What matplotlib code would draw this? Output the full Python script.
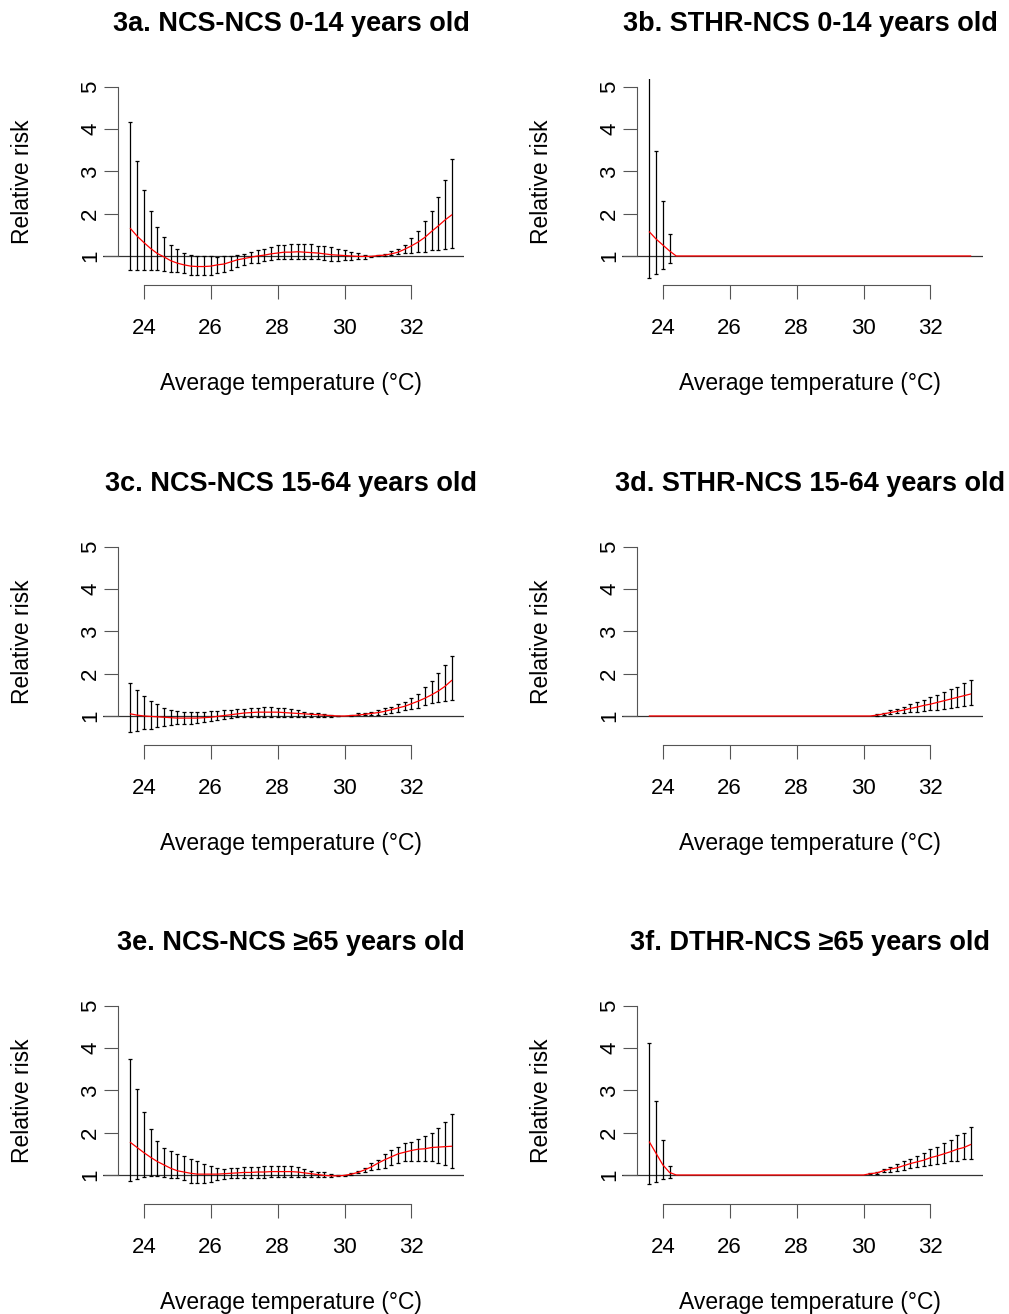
# Imports
import numpy
import matplotlib
matplotlib.use('Agg')
import matplotlib.pyplot as plt

plt.rcParams['font.family'] = ['Liberation Sans', 'DejaVu Sans']


######################################################################
# Data
######################################################################

temperature = [
    23.6, 23.8, 24.0, 24.2, 24.4, 24.6, 24.8, 25.0, 25.2, 25.4,
    25.6, 25.8, 26.0, 26.2, 26.4, 26.6, 26.8, 27.0, 27.2, 27.4,
    27.6, 27.8, 28.0, 28.2, 28.4, 28.6, 28.8, 29.0, 29.2, 29.4,
    29.6, 29.8, 30.0, 30.2, 30.4, 30.6, 30.8, 31.0, 31.2, 31.4,
    31.6, 31.8, 32.0, 32.2, 32.4, 32.6, 32.8, 33.0, 33.2
]

titles = [
    '3a. NCS-NCS 0-14 years old',
    '3b. STHR-NCS 0-14 years old',
    '3c. NCS-NCS 15-64 years old',
    '3d. STHR-NCS 15-64 years old',
    '3e. NCS-NCS \u226565 years old',
    '3f. DTHR-NCS \u226565 years old'
]

x_ticks = [24, 26, 28, 30, 32]
y_ticks = [1, 2, 3, 4, 5]

# 3a
rr_a = [
    1.65, 1.47, 1.32, 1.18, 1.06, 0.98, 0.89, 0.83, 0.79, 0.76,
    0.75, 0.75, 0.76, 0.79, 0.81, 0.86, 0.91, 0.94, 0.97, 1.00,
    1.02, 1.05, 1.07, 1.09, 1.09, 1.10, 1.09, 1.08, 1.07, 1.05,
    1.03, 1.02, 1.01, 1.00, 0.99, 0.99, 0.99, 1.01, 1.02, 1.05,
    1.09, 1.16, 1.24, 1.33, 1.44, 1.58, 1.71, 1.85, 1.97
]
lo_a = [
    0.67, 0.67, 0.67, 0.67, 0.67, 0.65, 0.63, 0.61, 0.59, 0.56,
    0.55, 0.55, 0.56, 0.59, 0.61, 0.67, 0.73, 0.79, 0.83, 0.84,
    0.89, 0.91, 0.94, 0.94, 0.94, 0.93, 0.93, 0.93, 0.92, 0.91,
    0.89, 0.89, 0.91, 0.91, 0.92, 0.94, 0.98, 1.00, 1.01, 1.02,
    1.04, 1.06, 1.07, 1.09, 1.10, 1.13, 1.14, 1.17, 1.18
]
hi_a = [
    4.16, 3.26, 2.56, 2.07, 1.68, 1.44, 1.25, 1.16, 1.06, 1.02,
    1.00, 1.00, 1.00, 0.98, 1.00, 1.00, 1.03, 1.05, 1.09, 1.13,
    1.16, 1.21, 1.26, 1.27, 1.28, 1.28, 1.28, 1.28, 1.24, 1.24,
    1.21, 1.17, 1.14, 1.09, 1.06, 1.02, 1.00, 1.02, 1.05, 1.11,
    1.17, 1.27, 1.42, 1.60, 1.82, 2.07, 2.40, 2.81, 3.29
]

# 3b
rr_b = [
    1.57, 1.40, 1.26, 1.12, 1.00, 1.00, 1.00, 1.00, 1.00, 1.00,
    1.00, 1.00, 1.00, 1.00, 1.00, 1.00, 1.00, 1.00, 1.00, 1.00,
    1.00, 1.00, 1.00, 1.00, 1.00, 1.00, 1.00, 1.00, 1.00, 1.00,
    1.00, 1.00, 1.00, 1.00, 1.00, 1.00, 1.00, 1.00, 1.00, 1.00,
    1.00, 1.00, 1.00, 1.00, 1.00, 1.00, 1.00, 1.00, 1.00
]
lo_b = [
    0.49, 0.57, 0.69, 0.84, 1.00, 1.00, 1.00, 1.00, 1.00, 1.00,
    1.00, 1.00, 1.00, 1.00, 1.00, 1.00, 1.00, 1.00, 1.00, 1.00,
    1.00, 1.00, 1.00, 1.00, 1.00, 1.00, 1.00, 1.00, 1.00, 1.00,
    1.00, 1.00, 1.00, 1.00, 1.00, 1.00, 1.00, 1.00, 1.00, 1.00,
    1.00, 1.00, 1.00, 1.00, 1.00, 1.00, 1.00, 1.00, 1.00
]
hi_b = [
    5.30, 3.48, 2.30, 1.51, 1.00, 1.00, 1.00, 1.00, 1.00, 1.00,
    1.00, 1.00, 1.00, 1.00, 1.00, 1.00, 1.00, 1.00, 1.00, 1.00,
    1.00, 1.00, 1.00, 1.00, 1.00, 1.00, 1.00, 1.00, 1.00, 1.00,
    1.00, 1.00, 1.00, 1.00, 1.00, 1.00, 1.00, 1.00, 1.00, 1.00,
    1.00, 1.00, 1.00, 1.00, 1.00, 1.00, 1.00, 1.00, 1.00
]

# 3c
rr_c = [
    1.05, 1.02, 1.00, 0.99, 0.98, 0.97, 0.96, 0.95, 0.95, 0.95,
    0.95, 0.96, 0.97, 0.99, 1.01, 1.03, 1.05, 1.07, 1.08, 1.09,
    1.09, 1.09, 1.09, 1.08, 1.07, 1.06, 1.05, 1.04, 1.03, 1.02,
    1.01, 1.00, 1.00, 1.01, 1.02, 1.04, 1.06, 1.08, 1.11, 1.15,
    1.19, 1.23, 1.29, 1.35, 1.42, 1.50, 1.59, 1.70, 1.84
]
lo_c = [
    0.61, 0.65, 0.69, 0.70, 0.75, 0.76, 0.79, 0.80, 0.81, 0.81,
    0.83, 0.85, 0.87, 0.91, 0.93, 0.96, 0.98, 0.98, 0.98, 0.98,
    0.98, 0.98, 0.98, 0.97, 0.97, 0.97, 0.98, 0.98, 0.98, 0.98,
    0.98, 0.99, 1.00, 1.00, 1.02, 1.02, 1.02, 1.03, 1.05, 1.07,
    1.09, 1.13, 1.17, 1.20, 1.25, 1.30, 1.34, 1.36, 1.39
]
hi_c = [
    1.79, 1.62, 1.48, 1.35, 1.28, 1.18, 1.13, 1.11, 1.09, 1.09,
    1.09, 1.10, 1.11, 1.12, 1.13, 1.14, 1.16, 1.17, 1.20, 1.20,
    1.21, 1.21, 1.20, 1.18, 1.17, 1.14, 1.09, 1.07, 1.06, 1.04,
    1.02, 1.01, 1.00, 1.02, 1.06, 1.08, 1.10, 1.13, 1.18, 1.22,
    1.28, 1.32, 1.42, 1.53, 1.68, 1.83, 2.01, 2.20, 2.43
]

# 3d
rr_d = [
    1.00, 1.00, 1.00, 1.00, 1.00, 1.00, 1.00, 1.00, 1.00, 1.00,
    1.00, 1.00, 1.00, 1.00, 1.00, 1.00, 1.00, 1.00, 1.00, 1.00,
    1.00, 1.00, 1.00, 1.00, 1.00, 1.00, 1.00, 1.00, 1.00, 1.00,
    1.00, 1.00, 1.00, 1.00, 1.02, 1.05, 1.08, 1.11, 1.14, 1.18,
    1.21, 1.25, 1.28, 1.32, 1.36, 1.40, 1.44, 1.48, 1.52
]
lo_d = [
    1.00, 1.00, 1.00, 1.00, 1.00, 1.00, 1.00, 1.00, 1.00, 1.00,
    1.00, 1.00, 1.00, 1.00, 1.00, 1.00, 1.00, 1.00, 1.00, 1.00,
    1.00, 1.00, 1.00, 1.00, 1.00, 1.00, 1.00, 1.00, 1.00, 1.00,
    1.00, 1.00, 1.00, 1.00, 1.01, 1.02, 1.04, 1.06, 1.08, 1.09,
    1.10, 1.12, 1.13, 1.14, 1.16, 1.20, 1.22, 1.24, 1.26
]
hi_d = [
    1.00, 1.00, 1.00, 1.00, 1.00, 1.00, 1.00, 1.00, 1.00, 1.00,
    1.00, 1.00, 1.00, 1.00, 1.00, 1.00, 1.00, 1.00, 1.00, 1.00,
    1.00, 1.00, 1.00, 1.00, 1.00, 1.00, 1.00, 1.00, 1.00, 1.00,
    1.00, 1.00, 1.00, 1.00, 1.04, 1.08, 1.13, 1.17, 1.21, 1.28,
    1.32, 1.38, 1.44, 1.50, 1.56, 1.63, 1.69, 1.77, 1.85
]

# 3e
rr_e = [
    1.77, 1.65, 1.53, 1.42, 1.32, 1.24, 1.16, 1.10, 1.07, 1.04,
    1.02, 1.02, 1.02, 1.02, 1.03, 1.04, 1.05, 1.06, 1.06, 1.07,
    1.07, 1.08, 1.08, 1.08, 1.08, 1.07, 1.05, 1.03, 1.01, 0.99,
    0.98, 0.98, 0.99, 1.02, 1.06, 1.12, 1.19, 1.28, 1.36, 1.43,
    1.50, 1.54, 1.58, 1.61, 1.62, 1.65, 1.66, 1.67, 1.68
]
lo_e = [
    0.85, 0.90, 0.96, 0.98, 0.98, 0.96, 0.94, 0.92, 0.88, 0.82,
    0.80, 0.80, 0.84, 0.87, 0.90, 0.92, 0.92, 0.94, 0.94, 0.94,
    0.94, 0.95, 0.96, 0.96, 0.96, 0.96, 0.96, 0.96, 0.96, 0.96,
    0.96, 0.97, 0.98, 1.00, 1.04, 1.08, 1.12, 1.13, 1.17, 1.24,
    1.29, 1.32, 1.33, 1.33, 1.33, 1.32, 1.29, 1.24, 1.16
]
hi_e = [
    3.75, 3.03, 2.49, 2.10, 1.81, 1.64, 1.56, 1.49, 1.46, 1.39,
    1.33, 1.27, 1.22, 1.17, 1.15, 1.16, 1.17, 1.18, 1.19, 1.20,
    1.21, 1.21, 1.22, 1.22, 1.21, 1.19, 1.14, 1.10, 1.08, 1.06,
    1.02, 1.00, 1.01, 1.05, 1.09, 1.17, 1.28, 1.36, 1.49, 1.58,
    1.67, 1.75, 1.79, 1.84, 1.92, 2.00, 2.12, 2.26, 2.44
]

# 3f
rr_f = [
    1.78, 1.51, 1.24, 1.06, 1.00, 1.00, 1.00, 1.00, 1.00, 1.00,
    1.00, 1.00, 1.00, 1.00, 1.00, 1.00, 1.00, 1.00, 1.00, 1.00,
    1.00, 1.00, 1.00, 1.00, 1.00, 1.00, 1.00, 1.00, 1.00, 1.00,
    1.00, 1.00, 1.00, 1.03, 1.05, 1.10, 1.14, 1.17, 1.22, 1.27,
    1.31, 1.35, 1.41, 1.45, 1.50, 1.55, 1.61, 1.65, 1.72
]
lo_f = [
    0.78, 0.83, 0.90, 0.94, 1.00, 1.00, 1.00, 1.00, 1.00, 1.00,
    1.00, 1.00, 1.00, 1.00, 1.00, 1.00, 1.00, 1.00, 1.00, 1.00,
    1.00, 1.00, 1.00, 1.00, 1.00, 1.00, 1.00, 1.00, 1.00, 1.00,
    1.00, 1.00, 1.00, 1.02, 1.03, 1.06, 1.08, 1.09, 1.12, 1.16,
    1.18, 1.21, 1.24, 1.26, 1.29, 1.32, 1.33, 1.37, 1.39
]
hi_f = [
    4.12, 2.75, 1.82, 1.22, 1.00, 1.00, 1.00, 1.00, 1.00, 1.00,
    1.00, 1.00, 1.00, 1.00, 1.00, 1.00, 1.00, 1.00, 1.00, 1.00,
    1.00, 1.00, 1.00, 1.00, 1.00, 1.00, 1.00, 1.00, 1.00, 1.00,
    1.00, 1.00, 1.00, 1.04, 1.07, 1.15, 1.20, 1.25, 1.32, 1.38,
    1.46, 1.51, 1.61, 1.67, 1.75, 1.83, 1.94, 2.00, 2.13
]

panels = [
    (rr_a, lo_a, hi_a),
    (rr_b, lo_b, hi_b),
    (rr_c, lo_c, hi_c),
    (rr_d, lo_d, hi_d),
    (rr_e, lo_e, hi_e),
    (rr_f, lo_f, hi_f)
]


######################################################################
# Layout (pixels)
######################################################################

fig_w, fig_h = 1009, 1314
col_left = [103, 622]
row_top = [79.4, 539.4, 998.4]
ax_w = 361.3
ax_h = 205.3

x_lim = (22.78, 33.58)
y_lim = (0.32, 5.18)
y_axis_x = 23.216
x_center = 28.4

px = 72 / 100   # pixels to points


######################################################################
# Functions
######################################################################

def draw_panel(ax, title, rr, lo, hi):
    """Draw one relative risk panel in base-R style."""

    t = numpy.asarray(temperature)
    rr = numpy.asarray(rr)
    lo = numpy.asarray(lo)
    hi = numpy.asarray(hi)

    ax.set_xlim(*x_lim)
    ax.set_ylim(*y_lim)

    ax.axhline(1, color='#333333', linewidth=0.9, zorder=1)

    show = (hi - lo) > 0.005
    ax.vlines(t[show], lo[show], hi[show], color='black', linewidth=0.9, zorder=2)
    ax.plot(t[show], hi[show], linestyle='none', marker='_', markersize=3,
            markeredgewidth=0.9, color='black', zorder=2)
    ax.plot(t[show], lo[show], linestyle='none', marker='_', markersize=3,
            markeredgewidth=0.9, color='black', zorder=2)

    ax.plot(t, rr, color='red', linewidth=0.9, zorder=3)

    # Axes
    for side in ['top', 'right']:
        ax.spines[side].set_visible(False)
    ax.spines['left'].set_position(('data', y_axis_x))
    ax.spines['left'].set_bounds(1, 5)
    ax.spines['bottom'].set_bounds(24, 32)
    for side in ['left', 'bottom']:
        ax.spines[side].set_color('#555555')
        ax.spines[side].set_linewidth(0.8)

    ax.set_xticks(x_ticks)
    ax.set_yticks(y_ticks)
    ax.set_xticklabels([str(v) for v in x_ticks])
    ax.set_yticklabels([str(v) for v in y_ticks])
    ax.tick_params(direction='out', length=10, width=0.8, color='#555555',
                   labelcolor='black', labelsize=16)
    ax.tick_params(axis='x', pad=14)
    ax.tick_params(axis='y', pad=5.5)
    for label in ax.get_yticklabels():
        label.set_rotation(90)
        label.set_rotation_mode('anchor')
        label.set_horizontalalignment('center')
        label.set_verticalalignment('baseline')

    ax.annotate(
        title,
        xy=(x_center, 1),
        xycoords=('data', 'axes fraction'),
        xytext=(0, 55 * px),
        textcoords='offset points',
        ha='center',
        va='center',
        fontsize=19.5,
        fontweight='bold',
        annotation_clip=False
    )

    ax.annotate(
        'Average temperature (\u00b0C)',
        xy=(x_center, 0),
        xycoords=('data', 'axes fraction'),
        xytext=(0, -99 * px),
        textcoords='offset points',
        ha='center',
        va='center',
        fontsize=16.5,
        annotation_clip=False
    )

    ax.annotate(
        'Relative risk',
        xy=(y_axis_x, 0.5),
        xycoords=('data', 'axes fraction'),
        xytext=(-95 * px, 0),
        textcoords='offset points',
        ha='center',
        va='center',
        rotation=90,
        fontsize=16.5,
        annotation_clip=False
    )


######################################################################
# Main
######################################################################

fig = plt.figure(figsize=(fig_w / 100, fig_h / 100), dpi=100)

for ipanel, (rr, lo, hi) in enumerate(panels):

    irow = ipanel // 2
    icol = ipanel % 2

    ax = fig.add_axes([
        col_left[icol] / fig_w,
        1 - (row_top[irow] + ax_h) / fig_h,
        ax_w / fig_w,
        ax_h / fig_h
    ])
    ax.patch.set_visible(False)

    draw_panel(ax, titles[ipanel], rr, lo, hi)

plt.savefig('out.png', dpi=100)
plt.close()
